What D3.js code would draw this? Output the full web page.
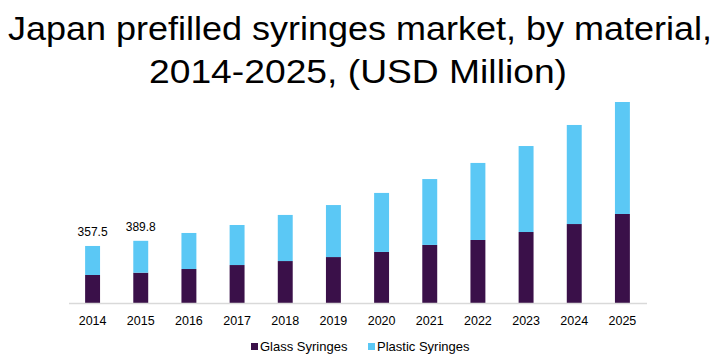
<!DOCTYPE html>
<html>
<head>
<meta charset="utf-8">
<script src="https://cdn.jsdelivr.net/npm/d3@7"></script>
<style>
	body { margin: 0; background: #fff; }
	text { font-family: Arial, "Liberation Sans", sans-serif; }
</style>
</head>
<body>
<script>
// Chart data
const years = ['2014', '2015', '2016', '2017', '2018', '2019', '2020', '2021', '2022', '2023', '2024', '2025']
const glass = [175.6, 190, 213, 238, 263, 288, 320, 364, 395, 445, 495, 558]
const plastic = [181.9, 199.8, 226, 251, 289, 326, 370, 413, 483, 539, 621, 702]
const totalLabels = ['357.5', '389.8', '', '', '', '', '', '', '', '', '', '']
const seriesNames = ['Glass Syringes', 'Plastic Syringes']
const colors = ['#3a1049', '#5bc8f5']

const width = 719, height = 362
const svg = d3.select('body').append('svg')
	.attr('width', width).attr('height', height)

// Title
const title = svg.append('text')
	.attr('text-anchor', 'middle')
	.style('font-size', '34px')
	.style('fill', '#000')
title.append('tspan').attr('x', 360).attr('y', 40)
	.attr('textLength', 704).attr('lengthAdjust', 'spacingAndGlyphs')
	.text('Japan prefilled syringes market, by material,')
title.append('tspan').attr('x', 358).attr('y', 83)
	.attr('textLength', 418).attr('lengthAdjust', 'spacingAndGlyphs')
	.text('2014-2025, (USD Million)')

// Scales
const x = d3.scaleBand().domain(years).range([68.5, 646.5]).paddingInner(0.69).paddingOuter(0.345)
const y = d3.scaleLinear().domain([0, 1260]).range([303, 102])

const stacked = years.map((yr, i) => ({year: yr, glass: glass[i], plastic: plastic[i]}))
const series = d3.stack().keys(['glass', 'plastic'])(stacked)

svg.append('g').selectAll('g')
	.data(series).join('g')
		.attr('fill', (d, i) => colors[i])
	.selectAll('rect')
	.data(d => d).join('rect')
		.attr('x', d => x(d.data.year))
		.attr('width', x.bandwidth())
		.attr('y', d => y(d[1]))
		.attr('height', d => y(d[0]) - y(d[1]))

// Value labels
svg.append('g').selectAll('text')
	.data(years).join('text')
		.attr('x', d => x(d) + x.bandwidth()/2)
		.attr('y', (d, i) => y(glass[i] + plastic[i]) - 10)
		.attr('text-anchor', 'middle')
		.style('font-size', '12px')
		.text((d, i) => totalLabels[i])

// Axis
const axis = svg.append('g')
	.attr('transform', `translate(0, ${y(0)})`)
	.call(d3.axisBottom(x).tickSize(0).tickPadding(13))
axis.select('.domain').attr('stroke', '#d9d9d9').attr('stroke-width', 1.3)
axis.selectAll('text').style('font-size', '12.5px').style('fill', '#000')
	.style('font-family', 'Arial, "Liberation Sans", sans-serif')

// Legend
const legendX = [251, 368]
const legend = svg.append('g').selectAll('g')
	.data(seriesNames).join('g')
		.attr('transform', (d, i) => `translate(${legendX[i]}, 343)`)
legend.append('rect')
	.attr('width', 7).attr('height', 7)
	.attr('fill', (d, i) => colors[i])
legend.append('text')
	.attr('x', 9).attr('y', 8)
	.style('font-size', '13px')
	.text(d => d)
</script>
</body>
</html>
